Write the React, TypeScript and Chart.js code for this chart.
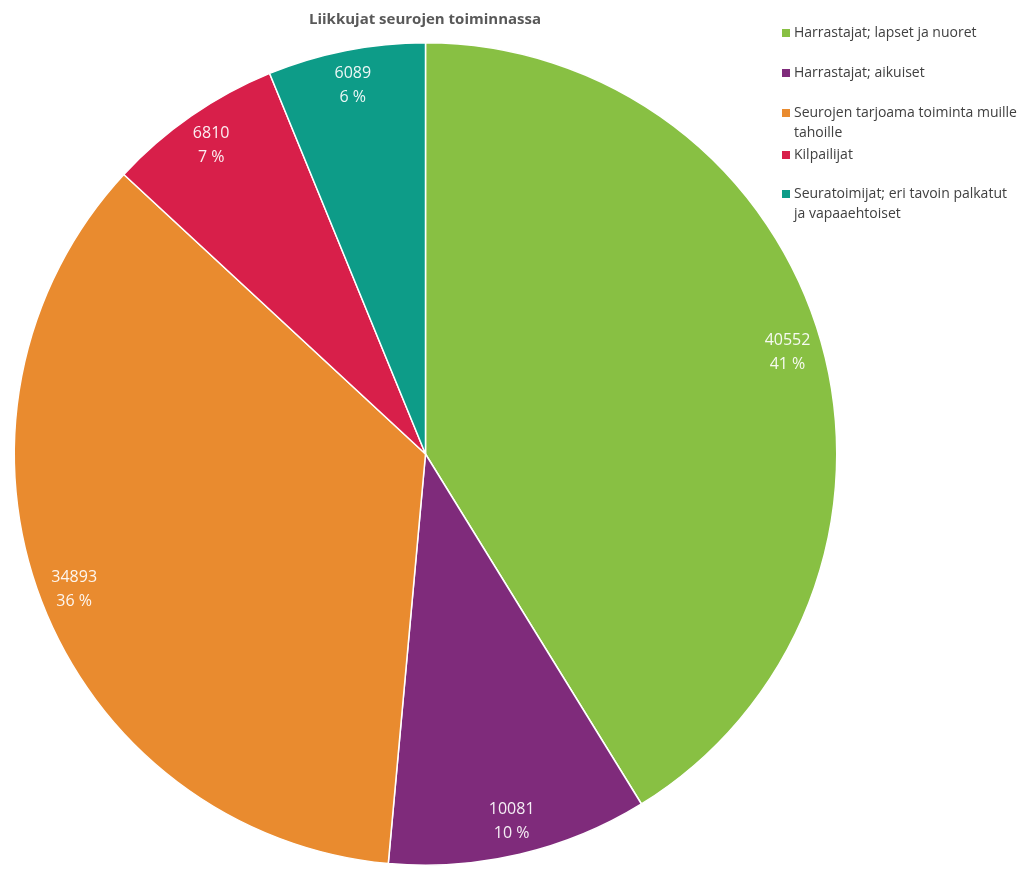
import React, { useEffect, useRef } from "react";
import { Chart, registerables } from "chart.js";

Chart.register(...registerables);

const TITLE = "Liikkujat seurojen toiminnassa";
const categories = [
  "Harrastajat; lapset ja nuoret",
  "Harrastajat; aikuiset",
  "Seurojen tarjoama toiminta muille tahoille",
  "Kilpailijat",
  "Seuratoimijat; eri tavoin palkatut ja vapaaehtoiset",
];
const values = [40552, 10081, 34893, 6810, 6089];
const percentLabels = ["41 %", "10 %", "36 %", "7 %", "6 %"];
const colors = ["#88c043", "#7f2b7b", "#e98b2f", "#d81f4a", "#0d9c88"];
const legendLines = [
  ["Harrastajat; lapset ja nuoret"],
  ["Harrastajat; aikuiset"],
  ["Seurojen tarjoama toiminta muille", "tahoille"],
  ["Kilpailijat"],
  ["Seuratoimijat; eri tavoin palkatut", "ja vapaaehtoiset"],
];
const legendTops = [33, 73, 113, 155, 194];

const FONT = "'Open Sans', 'DejaVu Sans', sans-serif";

const overlayPlugin = {
  id: "overlay",
  afterDraw(chart: any) {
    const ctx = chart.ctx;
    ctx.save();
    // Title
    ctx.fillStyle = "#595959";
    ctx.font = `bold 15px ${FONT}`;
    ctx.textAlign = "center";
    ctx.textBaseline = "middle";
    ctx.fillText(TITLE, 425, 20);

    // Data labels
    const meta = chart.getDatasetMeta(0);
    ctx.font = `16px ${FONT}`;
    ctx.fillStyle = "rgba(255,255,255,0.92)";
    meta.data.forEach((arc: any, i: number) => {
      const p = arc.getProps(["x", "y", "startAngle", "endAngle", "outerRadius"], true);
      const mid = (p.startAngle + p.endAngle) / 2;
      const r = p.outerRadius * 0.915;
      const cx = p.x + Math.cos(mid) * r;
      const cy = p.y + Math.sin(mid) * r;
      ctx.fillText(String(values[i]), cx, cy - 11);
      ctx.fillText(percentLabels[i], cx, cy + 13);
    });

    // Legend
    ctx.textAlign = "left";
    ctx.font = `14px ${FONT}`;
    legendLines.forEach((lines, i) => {
      const y0 = legendTops[i];
      ctx.fillStyle = colors[i];
      ctx.fillRect(782, y0 - 4, 8, 8);
      ctx.fillStyle = "#404040";
      lines.forEach((t, j) => {
        ctx.fillText(t, 794, y0 + j * 20);
      });
    });
    ctx.restore();
  },
};

export default function App() {
  const ref = useRef<HTMLCanvasElement>(null);
  useEffect(() => {
    if (!ref.current) return;
    const chart = new Chart(ref.current, {
      type: "pie",
      data: {
        labels: categories,
        datasets: [
          {
            data: values,
            backgroundColor: colors,
            borderColor: "#ffffff",
            borderWidth: 1.5,
          },
        ],
      },
      options: {
        responsive: false,
        animation: false,
        layout: { padding: { left: 13, right: 186, top: 42, bottom: 20 } },
        plugins: {
          legend: { display: false },
          title: { display: false },
          tooltip: { enabled: false },
        },
      },
      plugins: [overlayPlugin],
    });
    return () => chart.destroy();
  }, []);
  return (
    <div style={{ position: "absolute", left: 0, top: 0, width: 1024, height: 886, background: "#fff" }}>
      <canvas ref={ref} width={1024} height={886} />
    </div>
  );
}
